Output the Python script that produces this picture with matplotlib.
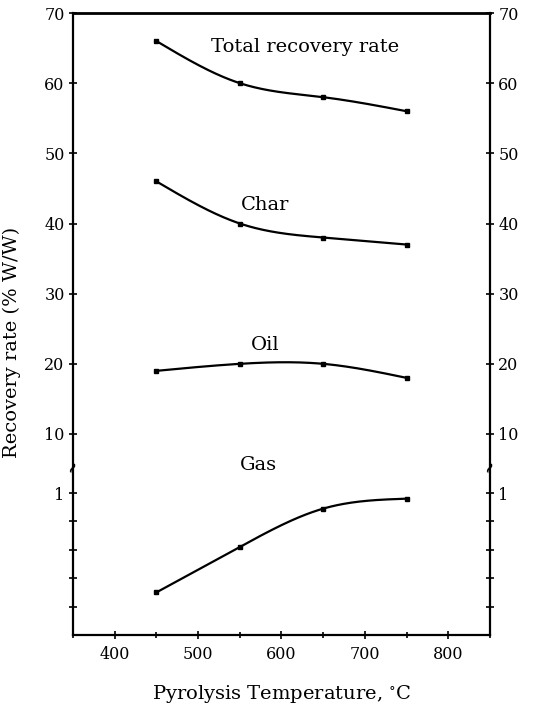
import numpy as np
import matplotlib
matplotlib.use("Agg")
import matplotlib.pyplot as plt

temps = [450, 550, 650, 750]
total = [66, 60, 58, 56]
char = [46, 40, 38, 37]
oil = [19, 20, 20, 18]
gas = [0.30, 0.62, 0.89, 0.96]

x_ticks = [400, 500, 600, 700, 800]
y_ticks_upper = [10, 20, 30, 40, 50, 60, 70]
y_ticks_lower = [0.2, 0.4, 0.6, 0.8, 1]

plt.rcParams['font.family'] = ['DejaVu Serif']
plt.rcParams['mathtext.fontset'] = 'dejavuserif'

# piecewise axis: 0-1 linear, compressed 1-10, then linear 10-70
P1, P10, PPU = 142.0, 201.0, 421.0 / 60.0


def fwd(y):
    y = np.asarray(y, dtype=float)
    return np.where(y <= 1, y * P1,
                    np.where(y <= 10, P1 + (P10 - P1) * (y - 1) / 9.0,
                             P10 + PPU * (y - 10)))


def inv(p):
    p = np.asarray(p, dtype=float)
    return np.where(p <= P1, p / P1,
                    np.where(p <= P10, 1 + 9.0 * (p - P1) / (P10 - P1),
                             10 + (p - P10) / PPU))


def spline(x, y, n=200):
    x = np.asarray(x, float); y = np.asarray(y, float)
    k = len(x)
    h = np.diff(x)
    A = np.zeros((k, k)); b = np.zeros(k)
    A[0, 0] = A[-1, -1] = 1
    for i in range(1, k - 1):
        A[i, i - 1] = h[i - 1]; A[i, i] = 2 * (h[i - 1] + h[i]); A[i, i + 1] = h[i]
        b[i] = 6 * ((y[i + 1] - y[i]) / h[i] - (y[i] - y[i - 1]) / h[i - 1])
    M = np.linalg.solve(A, b)
    xs = np.linspace(x[0], x[-1], n)
    ys = np.empty_like(xs)
    for j, xv in enumerate(xs):
        i = min(np.searchsorted(x, xv, side='right') - 1, k - 2)
        t1 = x[i + 1] - xv; t0 = xv - x[i]
        ys[j] = (M[i] * t1 ** 3 + M[i + 1] * t0 ** 3) / (6 * h[i]) + \
                (y[i] / h[i] - M[i] * h[i] / 6) * t1 + (y[i + 1] / h[i] - M[i + 1] * h[i] / 6) * t0
    return xs, ys


fig = plt.figure(figsize=(5.38, 7.06), dpi=100)
ax = fig.add_axes([73 / 538, 71 / 706, 417 / 538, 622 / 706])
ax.set_yscale('function', functions=(fwd, inv))
ax.set_xlim(350, 850)
ax.set_ylim(0, 70)

for series in (total, char, oil, gas):
    xs, ys = spline(temps, series)
    ax.plot(xs, ys, color='black', lw=1.6, solid_capstyle='butt')
    ax.plot(temps, series, ls='none', marker='s', ms=3.5, color='black')

ax.set_xticks(x_ticks)
ax.set_xticks(np.arange(350, 851, 50), minor=True)
ax.set_xticklabels([str(v) for v in x_ticks])
yt = y_ticks_lower + y_ticks_upper
ax.set_yticks(yt)
ax.set_yticklabels(['' if v < 1 else str(v) for v in yt])
ax.yaxis.set_minor_locator(matplotlib.ticker.NullLocator())

ax.tick_params(axis='both', which='both', direction='inout', length=6, width=1.2,
               labelsize=11.5, colors='black')
ax.tick_params(axis='y', right=True, labelright=True, pad=3)
ax.tick_params(axis='x', which='minor', length=5)
ax.tick_params(axis='x', pad=5)
for s in ax.spines.values():
    s.set_linewidth(1.6)
ax.spines['top'].set_linewidth(2.0)

# break marks
bt = matplotlib.transforms.blended_transform_factory(ax.transAxes, ax.transData)
for xa in (0.0, 1.0):
    ax.text(xa, 5.0, '~', transform=bt, ha='center', va='center', fontsize=11,
            rotation=60, fontweight='bold')

ax.text(628, 65.2, 'Total recovery rate', fontsize=14, ha='center', va='center')
ax.text(580, 42.6, 'Char', fontsize=14, ha='center', va='center')
ax.text(580, 22.7, 'Oil', fontsize=14, ha='center', va='center')
ax.text(572, 5.3, 'Gas', fontsize=14, ha='center', va='center')

ax.set_xlabel('Pyrolysis Temperature, $^{\\circ}$C', fontsize=14, labelpad=14)
ax.set_ylabel('Recovery rate (% W/W)', fontsize=14, labelpad=6)
ax.yaxis.set_label_coords(-0.125, 0.47)

fig.savefig('out.png', dpi=100)
